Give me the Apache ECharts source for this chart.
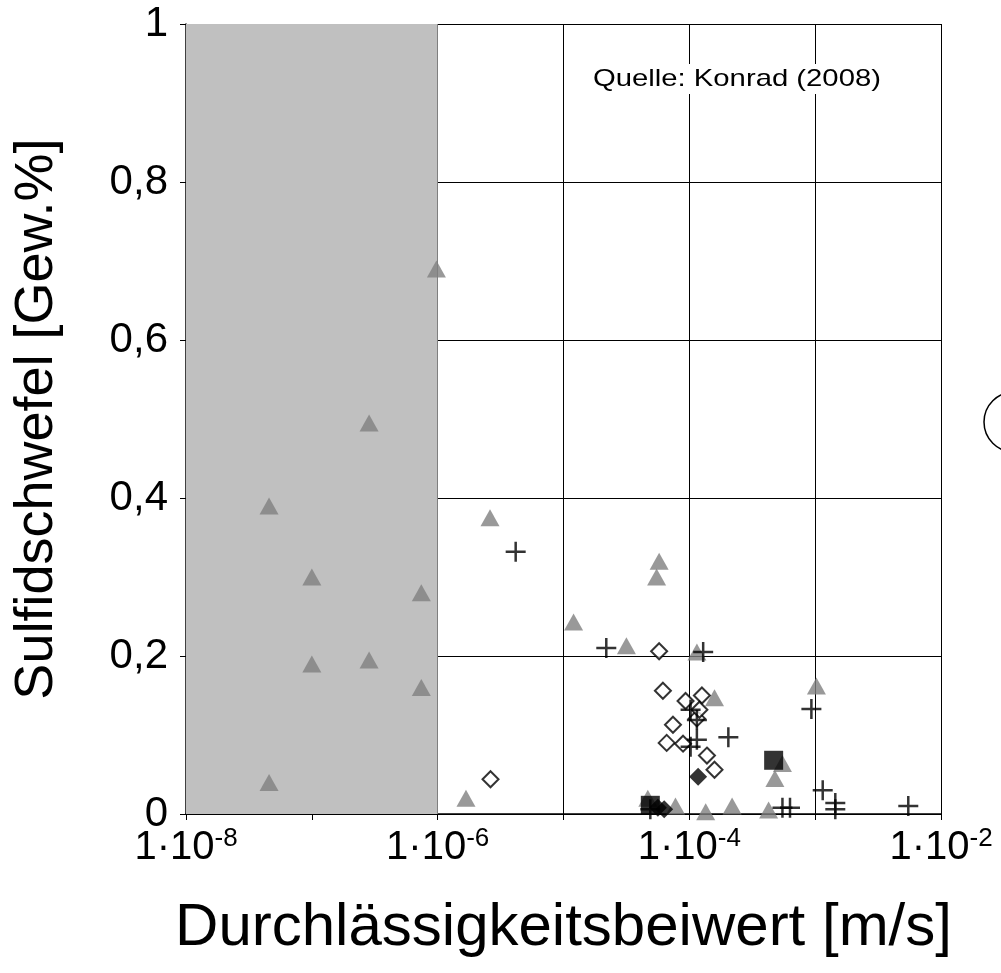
<!DOCTYPE html>
<html><head><meta charset="utf-8">
<script src="https://cdn.jsdelivr.net/npm/echarts@6/dist/echarts.min.js"></script>
<style>html,body{margin:0;background:#fff}#c{width:1001px;height:973px}</style>
</head><body><div id="c"></div>
<script>
// [log10(k), S]
const triangles = [[-7.34,0.39],[-7.0,0.30],[-7.0,0.19],[-6.545,0.495],[-6.545,0.195],[-6.13,0.28],[-6.13,0.16],[-6.01,0.69],[-7.34,0.04],[-5.775,0.02],[-5.584,0.375],[-4.92,0.243],[-4.50,0.213],[-4.24,0.32],[-4.26,0.30],[-3.94,0.205],[-3.80,0.147],[-2.99,0.162],[-3.26,0.064],[-3.32,0.045],[-4.33,0.02],[-4.11,0.01],[-3.87,0.003],[-3.66,0.01],[-3.37,0.005]];
const plus = [[-5.38,0.332],[-4.66,0.21],[-3.89,0.205],[-3.99,0.132],[-3.94,0.119],[-3.94,0.094],[-3.99,0.085],[-3.69,0.097],[-3.03,0.133],[-2.94,0.03],[-2.84,0.014],[-2.84,0.006],[-3.26,0.008],[-3.20,0.008],[-2.26,0.01],[-4.31,0.006]];
const openDiamonds = [[-4.24,0.206],[-4.21,0.156],[-4.03,0.143],[-3.90,0.15],[-3.94,0.121],[-4.13,0.113],[-4.18,0.09],[-4.05,0.089],[-3.86,0.074],[-3.80,0.056],[-5.58,0.044],[-3.92,0.132]];
const filledDiamonds = [[-3.93,0.047],[-4.20,0.006],[-4.25,0.008]];
const filledSquares = [[-3.33,0.068],[-4.31,0.011]];
const xTickLabels = {'-8':'-8','-6':'-6','-4':'-4','-2':'-2'};
const yTicks = ['0','0,2','0,4','0,6','0,8','1'];

const toPts = a => a.map(p => [Math.pow(10,p[0]), p[1]]);
const plusPath = 'path://M-1,0L1,0M0,-1L0,1';
const chart = echarts.init(document.getElementById('c'));
chart.setOption({
  animation:false,
  grid:{left:186,right:60,top:24,bottom:159},
  xAxis:{type:'log',logBase:10,min:1e-8,max:1e-2,
    name:'Durchlässigkeitsbeiwert [m/s]',nameLocation:'middle',nameGap:84,
    nameTextStyle:{fontFamily:'Liberation Sans',fontSize:60,color:'#000'},
    axisLine:{lineStyle:{color:'#000',width:1.5}},
    axisTick:{show:true,length:6,lineStyle:{color:'#000'}},
    minorTick:{show:false},
    splitLine:{show:true,lineStyle:{color:'#000',width:1}},
    axisLabel:{margin:12,formatter:v=>{const e=Math.round(Math.log10(v));const s=xTickLabels[String(e)];return s?'{b|1·10}{s|'+s+'}':'';},
      rich:{b:{fontFamily:'Liberation Sans',fontSize:40,color:'#000'},s:{fontFamily:'Liberation Sans',fontSize:26,color:'#000',verticalAlign:'top',padding:[0,0,18,0]}}}},
  yAxis:{type:'value',min:0,max:1,interval:0.2,
    name:'Sulfidschwefel [Gew.%]',nameLocation:'middle',nameGap:122,nameRotate:90,
    nameTextStyle:{fontFamily:'Liberation Sans',fontSize:54,color:'#000'},
    axisLine:{show:true,lineStyle:{color:'#000',width:1.5}},
    axisTick:{show:true,length:6,lineStyle:{color:'#000'}},
    splitLine:{lineStyle:{color:'#000',width:1}},
    axisLabel:{fontFamily:'Liberation Sans',fontSize:42,color:'#000',margin:18,formatter:(v)=>yTicks[Math.round(v*5)]}},
  graphic:[
    {type:'text',left:588,top:64,z:10,style:{text:'Quelle: Konrad (2008)',font:'24px "Liberation Sans"',fill:'#000',backgroundColor:'#fff',padding:[3,4]},scaleX:1.22,originX:588},
    {type:'circle',shape:{cx:1014,cy:422,r:30},style:{fill:'none',stroke:'#000',lineWidth:1.5}}
  ],
  series:[
    {type:'scatter',data:[],markArea:{silent:true,itemStyle:{color:'#c0c0c0'},data:[[{xAxis:1e-8},{xAxis:1e-6}]]},z:1},
    {type:'scatter',data:toPts(triangles),symbol:'triangle',symbolSize:[19,17],itemStyle:{color:'#808080'},z:3},
    {type:'scatter',data:toPts(openDiamonds),symbol:'diamond',symbolSize:16,itemStyle:{color:'#fff',borderColor:'#000',borderWidth:2},z:4},
    {type:'scatter',data:toPts(plus),symbol:plusPath,symbolSize:20,itemStyle:{color:'none',borderColor:'#000',borderWidth:2.5},z:5},
    {type:'scatter',data:toPts(filledDiamonds),symbol:'diamond',symbolSize:18,itemStyle:{color:'#000'},z:6},
    {type:'scatter',data:toPts(filledSquares),symbol:'rect',symbolSize:19,itemStyle:{color:'#000'},z:6}
  ]
});
</script></body></html>
